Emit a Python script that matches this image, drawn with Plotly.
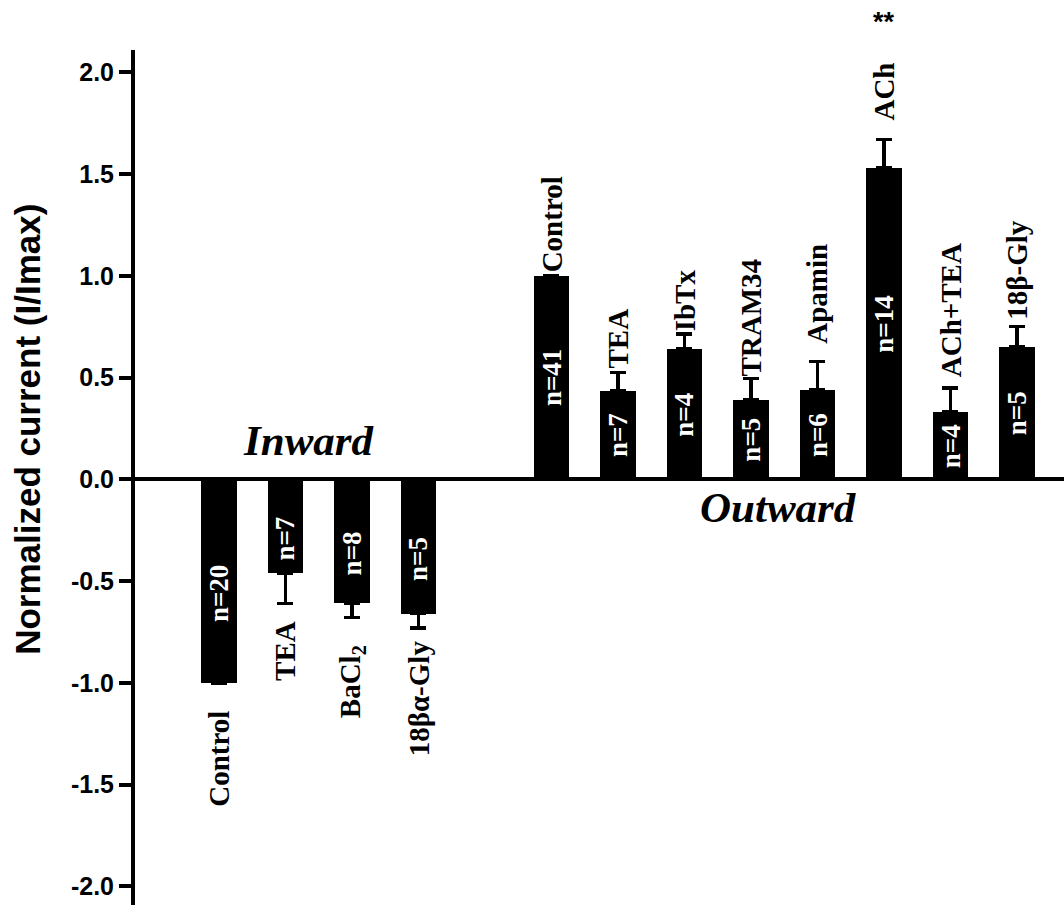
import plotly.graph_objects as go

# ---- data ----
inward_labels = ["Control", "TEA", "BaCl<sub>2</sub>", "18βα-Gly"]
inward_values = [-1.0, -0.46, -0.61, -0.66]
inward_err = [0.0, 0.15, 0.07, 0.07]
inward_n = ["n=20", "n=7", "n=8", "n=5"]

outward_labels = ["Control", "TEA", "IbTx", "TRAM34", "Apamin", "ACh", "ACh+TEA", "18β-Gly"]
outward_values = [1.0, 0.435, 0.64, 0.39, 0.44, 1.53, 0.33, 0.65]
outward_err = [0.0, 0.09, 0.075, 0.105, 0.14, 0.14, 0.12, 0.10]
outward_n = ["n=41", "n=7", "n=4", "n=5", "n=6", "n=14", "n=4", "n=5"]

tick_vals = [-2.0, -1.5, -1.0, -0.5, 0.0, 0.5, 1.0, 1.5, 2.0]
tick_text = ["-2.0", "-1.5", "-1.0", "-0.5", "0.0", "0.5", "1.0", "1.5", "2.0"]

signif_label = "**"
signif_group = "ACh"

# ---- layout helpers (styling only) ----
gap_slots = 1
inward_label_gap = [26, 15, 25, 10]
outward_label_gap = [2, 2, 1, 0, 16, 17, 9, 5]

x_in = list(range(len(inward_values)))
x_out = [len(inward_values) + gap_slots + i for i in range(len(outward_values))]

serif = "Liberation Serif"
sans = "Liberation Sans"
lab_size = 29
n_size = 27

fig = go.Figure()

fig.add_trace(go.Bar(
    x=x_in, y=inward_values, width=0.53,
    marker=dict(color="black", line=dict(width=0)),
    error_y=dict(type="data", symmetric=False, array=[0] * len(inward_err),
                 arrayminus=inward_err, color="black", thickness=3.5, width=8),
    showlegend=False, hoverinfo="skip",
))
fig.add_trace(go.Bar(
    x=x_out, y=outward_values, width=0.53,
    marker=dict(color="black", line=dict(width=0)),
    error_y=dict(type="data", symmetric=False, array=outward_err,
                 arrayminus=[0] * len(outward_err), color="black", thickness=3.5, width=8),
    showlegend=False, hoverinfo="skip",
))

annotations = []
# inward labels
for x, v, e, lab, n, g in zip(x_in, inward_values, inward_err, inward_labels, inward_n, inward_label_gap):
    annotations.append(dict(x=x, y=v - e, text="<b>" + lab + "</b>", showarrow=False, textangle=-90,
                            xanchor="center", yanchor="top", yshift=-g,
                            font=dict(family=serif, size=lab_size, color="black"), xref="x", yref="y"))
    annotations.append(dict(x=x, y=v / 2, text="<b>" + n + "</b>", showarrow=False, textangle=-90,
                            xanchor="center", yanchor="middle", yshift=-12,
                            font=dict(family=serif, size=n_size, color="white"), xref="x", yref="y"))
# outward labels
for x, v, e, lab, n, g in zip(x_out, outward_values, outward_err, outward_labels, outward_n, outward_label_gap):
    annotations.append(dict(x=x, y=v + e, text="<b>" + lab + "</b>", showarrow=False, textangle=-90,
                            xanchor="center", yanchor="bottom", yshift=g,
                            font=dict(family=serif, size=lab_size, color="black"), xref="x", yref="y"))
    annotations.append(dict(x=x, y=v / 2, text="<b>" + n + "</b>", showarrow=False, textangle=-90,
                            xanchor="center", yanchor="middle",
                            font=dict(family=serif, size=n_size, color="white"), xref="x", yref="y"))

# group titles
annotations.append(dict(x=1.35, y=0.19, text="<b><i>Inward</i></b>", showarrow=False,
                        xanchor="center", yanchor="middle",
                        font=dict(family=serif, size=43, color="black"), xref="x", yref="y"))
annotations.append(dict(x=8.42, y=-0.14, text="<b><i>Outward</i></b>", showarrow=False,
                        xanchor="center", yanchor="middle",
                        font=dict(family=serif, size=43, color="black"), xref="x", yref="y"))

# significance marker
sig_x = x_out[outward_labels.index(signif_group)]
annotations.append(dict(x=sig_x, y=1.0, yshift=28, text="<b>" + signif_label + "</b>", showarrow=False,
                        xanchor="center", yanchor="middle",
                        font=dict(family=sans, size=27, color="black"), xref="x", yref="paper"))

# y-axis title
annotations.append(dict(x=-0.116, y=0.556, text="<b>Normalized current (I/Imax)</b>", showarrow=False,
                        textangle=-90, xanchor="center", yanchor="middle",
                        font=dict(family=sans, size=35, color="black"), xref="paper", yref="paper"))

fig.update_layout(
    width=1064, height=905,
    margin=dict(l=135, r=0, t=50, b=0),
    paper_bgcolor="white", plot_bgcolor="white",
    bargap=0,
    hovermode=False,
    annotations=annotations,
    xaxis=dict(range=[-1.263, 12.707], visible=False, showgrid=False, zeroline=False),
    yaxis=dict(range=[-2.092, 2.11], tickvals=tick_vals, ticktext=tick_text,
               showline=True, linewidth=4, linecolor="black",
               ticks="outside", ticklen=12, tickwidth=3.5, tickcolor="black",
               tickfont=dict(family=sans, size=25, color="black", weight="bold"),
               showgrid=False, zeroline=True, zerolinewidth=4, zerolinecolor="black"),
)

fig.write_html("out.html", config={"displayModeBar": False},
               post_script="document.body.style.margin='0';document.body.style.overflow='hidden';")
